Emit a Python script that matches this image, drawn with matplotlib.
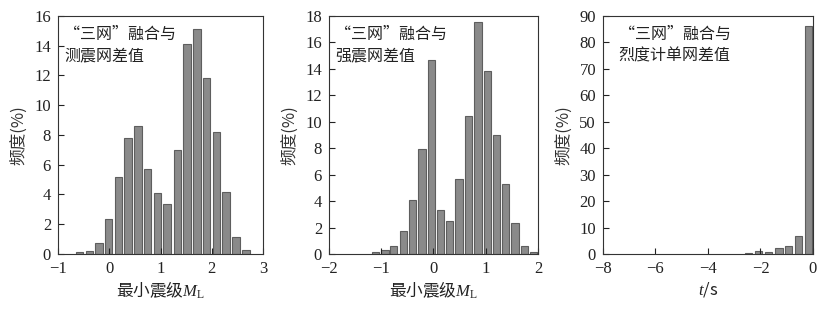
import matplotlib
matplotlib.use("Agg")
import matplotlib.pyplot as plt

plt.rcParams['font.family'] = ['Liberation Serif', 'Noto Sans CJK SC', 'DejaVu Sans']
plt.rcParams['mathtext.fontset'] = 'custom'
plt.rcParams['mathtext.rm'] = 'Liberation Serif'
plt.rcParams['mathtext.it'] = 'Liberation Serif:italic'

cjk = ['Noto Sans CJK SC', 'Liberation Serif']

# 测震网差值
x1 = [-0.58, -0.39, -0.20, -0.01, 0.18, 0.37, 0.56, 0.75, 0.94,
      1.13, 1.33, 1.52, 1.71, 1.90, 2.09, 2.28, 2.47, 2.67]
y1 = [0.11, 0.22, 0.76, 2.35, 5.16, 7.82, 8.6, 5.72, 4.08,
      3.36, 7.0, 14.1, 15.1, 11.86, 8.18, 4.2, 1.12, 0.29]

# 强震网差值
x2 = [-1.11, -0.93, -0.76, -0.58, -0.40, -0.22, -0.04, 0.14, 0.31,
      0.49, 0.67, 0.85, 1.03, 1.20, 1.38, 1.56, 1.74, 1.92]
y2 = [0.13, 0.3, 0.6, 1.74, 4.08, 7.94, 14.67, 3.35, 2.5,
      5.67, 10.41, 17.55, 13.86, 9.02, 5.29, 2.34, 0.63, 0.15]

# 烈度计单网差值
x3 = [-2.45, -2.07, -1.69, -1.30, -0.93, -0.55, -0.17]
y3 = [0.5, 1.0, 0.9, 2.1, 3.0, 6.7, 86.2]

titles = ["“三网”融合与\n测震网差值", "“三网”融合与\n强震网差值", "“三网”融合与\n烈度计单网差值"]
xlabels = ["最小震级$M_\\mathrm{L}$", "最小震级$M_\\mathrm{L}$", "$t$/s"]
xlims = [(-1, 3), (-2, 2), (-8, 0)]
ylims = [(0, 16), (0, 18), (0, 90)]
xticks = [[-1, 0, 1, 2, 3], [-2, -1, 0, 1, 2], [-8, -6, -4, -2, 0]]
yticks = [range(0, 17, 2), range(0, 19, 2), range(0, 91, 10)]
widths = [0.146, 0.14, 0.286]
lefts = [0.0703, 0.3988, 0.7309]
axw = [0.2485, 0.2533, 0.2545]
text_x = [0.03, 0.03, 0.075]

fig = plt.figure(figsize=(8.25, 3.11), dpi=100)
data = [(x1, y1), (x2, y2), (x3, y3)]
for i, (xs, ys) in enumerate(data):
    ax = fig.add_axes([lefts[i], 0.1833, axw[i], 0.7653])
    ax.bar(xs, ys, width=widths[i], color='#8a8a8a', edgecolor='#5e5e5e', linewidth=0.8)
    ax.set_xlim(*xlims[i])
    ax.set_ylim(*ylims[i])
    ax.set_xticks(xticks[i])
    ax.set_yticks(list(yticks[i]))
    ax.tick_params(direction='in', length=4, width=0.8, labelsize=12, colors='#222222')
    ax.tick_params(axis='x', pad=5)
    ax.tick_params(axis='y', pad=5)
    for s in ax.spines.values():
        s.set_linewidth(0.8)
        s.set_color('#333333')
    ax.set_xlabel(xlabels[i], fontsize=12, family=cjk, color='#222222', labelpad=2)
    ax.set_ylabel("频度(%)", fontsize=12, family=cjk, color='#333333', labelpad=5)
    ax.text(text_x[i], 0.96, titles[i], transform=ax.transAxes, ha='left', va='top',
            fontsize=11.5, family=cjk, color='#222222', linespacing=1.35)

fig.savefig("out.png", dpi=100)
